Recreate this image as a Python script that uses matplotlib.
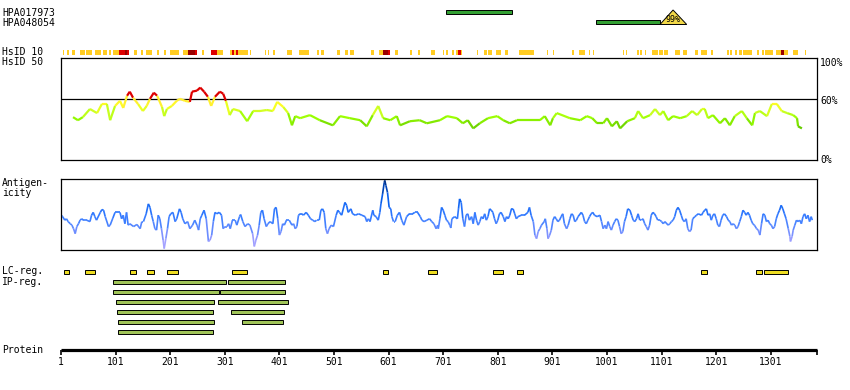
import numpy as np
import matplotlib
matplotlib.use('Agg')
import matplotlib.pyplot as plt
from matplotlib.collections import LineCollection
from matplotlib.colors import LinearSegmentedColormap, Normalize
from matplotlib.patches import Polygon

plt.rcParams['font.family'] = 'DejaVu Sans Mono'
plt.rcParams['font.size'] = 7

# ---- data (residue positions) ----
protein_len = 1385
tick_res = [1, 101, 201, 301, 401, 501, 601, 701, 801, 901, 1001, 1101, 1201, 1301]

ab_names = ['HPA017973', 'HPA048054']
ab_start = [706, 981]
ab_end = [827, 1098]
ab_score = [None, '99%']

hs10_start = [4, 12, 22, 36, 47, 63, 78, 89, 96, 107, 119, 122, 135, 148, 157, 176, 190, 201, 224, 234, 246,
              260, 276, 286, 310, 314, 317, 321, 325, 347, 375, 380, 389, 415, 437, 469, 478, 507, 521, 530,
              569, 584, 590, 600, 613, 640, 654, 679, 701, 707, 717, 725, 729, 733, 763, 775, 783, 798, 814,
              840, 891, 902, 937, 950, 968, 975, 1030, 1035, 1056, 1062, 1070, 1083, 1089, 1097, 1105, 1125,
              1140, 1162, 1173, 1191, 1220, 1226, 1236, 1243, 1250, 1275, 1285, 1290, 1310, 1319, 1326, 1341, 1363]
hs10_end = [7, 15, 26, 45, 57, 74, 85, 92, 107, 118, 122, 125, 141, 151, 167, 180, 193, 218, 234, 246, 250,
            262, 286, 297, 314, 317, 321, 325, 343, 349, 377, 382, 393, 424, 455, 473, 483, 512, 527, 538,
            574, 590, 600, 603, 618, 643, 658, 686, 703, 709, 720, 729, 733, 735, 765, 781, 790, 807, 820,
            867, 893, 904, 940, 961, 970, 978, 1033, 1038, 1060, 1065, 1073, 1088, 1094, 1103, 1113, 1134,
            1147, 1167, 1185, 1195, 1224, 1230, 1240, 1248, 1266, 1279, 1288, 1305, 1319, 1326, 1332, 1350, 1365]
hs10_level = ['y', 'y', 'y', 'y', 'y', 'y', 'y', 'y', 'y', 'r', 'd', 'r', 'y', 'y', 'y', 'y', 'y', 'y', 'y', 'd', 'r',
              'y', 'r', 'y', 'y', 'r', 'y', 'r', 'y', 'y', 'y', 'y', 'y', 'y', 'y', 'y', 'y', 'y', 'y', 'y',
              'y', 'y', 'd', 'r', 'y', 'y', 'y', 'y', 'y', 'y', 'y', 'y', 'r', 'y', 'y', 'y', 'y', 'y', 'y',
              'y', 'y', 'y', 'y', 'y', 'y', 'y', 'y', 'y', 'y', 'y', 'y', 'y', 'y', 'y', 'y', 'y',
              'y', 'y', 'y', 'y', 'y', 'y', 'y', 'y', 'y', 'y', 'y', 'y', 'y', 'd', 'y', 'y', 'y']

hs50_pos = [23, 32, 41, 54, 67, 76, 85, 91, 100, 109, 115, 122, 127, 133, 142, 151, 158, 164, 171, 177, 186, 190,
            195, 204, 213, 219, 228, 237, 241, 250, 256, 263, 270, 276, 283, 292, 298, 303, 310, 316, 329, 342,
            353, 365, 378, 389, 397, 408, 417, 424, 430, 439, 457, 475, 499, 512, 530, 549, 561, 572, 582, 591,
            604, 616, 622, 640, 658, 671, 695, 708, 726, 737, 746, 756, 768, 783, 800, 811, 823, 836, 865, 878,
            887, 897, 902, 909, 933, 952, 964, 974, 983, 994, 1001, 1010, 1019, 1025, 1038, 1052, 1058, 1067,
            1080, 1089, 1098, 1104, 1113, 1122, 1135, 1147, 1157, 1166, 1175, 1180, 1186, 1195, 1208, 1217, 1226,
            1235, 1248, 1257, 1267, 1272, 1281, 1294, 1303, 1312, 1321, 1331, 1342, 1349, 1351, 1358]
hs50_val = [42, 39, 42, 50, 46, 55, 55, 39, 53, 58, 51, 63, 67, 61, 55, 48, 53, 60, 66, 63, 52, 43,
            50, 53, 58, 60, 58, 57, 67, 68, 71, 67, 62, 53, 62, 67, 65, 58, 44, 50, 48, 38,
            48, 48, 49, 48, 57, 52, 46, 34, 43, 41, 44, 39, 34, 43, 41, 39, 33, 44, 53, 41,
            39, 43, 34, 38, 39, 36, 39, 43, 41, 36, 39, 31, 36, 41, 43, 39, 36, 39, 39, 39,
            43, 34, 41, 46, 41, 39, 43, 41, 36, 36, 41, 33, 38, 31, 38, 41, 48, 41,
            44, 50, 44, 48, 39, 43, 41, 43, 48, 44, 50, 50, 41, 44, 36, 41, 34,
            43, 48, 41, 34, 46, 48, 43, 55, 55, 48, 46, 44, 41, 33, 31]

ag_pos = [1, 4, 8, 11, 14, 18, 21, 24, 27, 30, 33, 36, 39, 42, 48, 54, 57, 60, 63, 66, 73, 76, 79, 82, 88, 91, 96,
          100, 103, 109, 112, 115, 118, 121, 124, 127, 134, 140, 146, 149, 152, 157, 161, 164, 167, 170, 173, 176,
          179, 182, 185, 188, 190, 193, 196, 199, 202, 206, 210, 213, 218, 221, 224, 228, 233, 237, 242, 246, 250,
          253, 256, 259, 263, 267, 271, 274, 277, 280, 283, 286, 291, 295, 298, 301, 305, 308, 311, 315, 320, 323,
          328, 330, 334, 338, 343, 347, 352, 355, 358, 361, 364, 367, 370, 373, 377, 380, 384, 389, 392, 395, 398,
          401, 404, 407, 410, 414, 419, 424, 427, 430, 433, 436, 439, 442, 445, 450, 454, 458, 462, 466, 469, 474,
          477, 480, 483, 486, 489, 492, 496, 500, 505, 508, 511, 515, 521, 524, 527, 532, 535, 540, 546, 552, 558,
          561, 564, 567, 572, 574, 578, 582, 585, 587, 590, 593, 594, 596, 599, 602, 605, 607, 610, 613, 617, 621,
          625, 629, 634, 639, 645, 649, 654, 659, 662, 666, 671, 676, 680, 684, 688, 691,
          692, 695, 698, 701, 704, 707, 710, 713, 715, 717, 722, 727, 729, 731, 734, 737, 740, 743, 746, 749, 753,
          756, 759, 762, 765, 768, 771, 774, 777, 780, 783, 786, 789, 792, 795, 798, 801, 804, 807, 811, 814, 817,
          820, 823, 826, 829, 832, 835, 838, 844, 850, 856, 859, 862, 866, 869, 872, 875, 878, 881, 886, 888, 891,
          893, 896, 899, 902, 905, 908, 911, 914, 917, 920, 923, 927, 930, 933, 936, 939, 942, 945, 948, 954, 957,
          960, 963, 966, 969, 972, 975, 978, 983, 988, 991, 994, 997, 1000, 1003, 1006, 1009, 1012, 1015, 1018,
          1021, 1024, 1027, 1030, 1033, 1036, 1039, 1043, 1046, 1049, 1052, 1055, 1058, 1061, 1064, 1067, 1070,
          1073, 1076, 1079, 1082, 1085, 1088, 1091, 1094, 1098, 1101, 1104, 1107, 1113, 1116, 1119, 1122, 1125,
          1128, 1131, 1134, 1137, 1140, 1143, 1146, 1149, 1152, 1155, 1158, 1162, 1165, 1168, 1174, 1177, 1180,
          1183, 1186, 1189, 1192, 1195, 1198, 1201, 1204, 1207, 1210, 1213, 1216, 1220, 1223, 1226, 1229, 1232,
          1235, 1238, 1241, 1244, 1247, 1250, 1253, 1256, 1259, 1262, 1265, 1268, 1271, 1275, 1278, 1281, 1284,
          1287, 1290, 1293, 1296, 1299, 1302, 1305, 1308, 1311, 1314, 1317, 1320, 1323, 1326, 1329, 1333, 1336,
          1337, 1340, 1342, 1345, 1348, 1351, 1354, 1357, 1360, 1363, 1366, 1369, 1372, 1375, 1377]
ag_val = [49, 47, 42, 44, 40, 37, 35, 30, 23, 33, 37, 42, 44, 42, 42, 40, 49, 53, 47, 42, 53, 57, 56, 47, 33, 35, 45,
          53, 53, 53, 44, 49, 37, 53, 35, 37, 33, 36, 30, 40, 40, 51, 65, 60, 49, 40, 30, 28,
          49, 44, 30, 14, 2, 16, 30, 47, 51, 53, 40, 44, 58, 53, 44, 37, 40, 30, 35, 42, 35,
          28, 44, 49, 56, 44, 12, 14, 21, 40, 53, 51, 53, 49, 30, 33, 33, 37, 30, 42, 42, 35,
          47, 50, 40, 33, 37, 35, 23, 5, 14, 21, 35, 53, 56, 44, 33, 37, 40, 37, 58, 60, 44,
          21, 26, 37, 35, 42, 42, 35, 37, 30, 33, 49, 51, 51, 49, 53, 49, 44, 42, 40, 42, 42,
          56, 58, 53, 30, 23, 30, 35, 33, 49, 56, 53, 49, 67, 63, 53, 58, 51, 49, 51, 49, 47,
          40, 44, 40, 56, 49, 47, 42, 53, 65, 79, 95, 98, 91, 81, 60, 58, 47, 40, 40, 49, 53,
          42, 35, 47, 51, 51, 53, 53, 47, 42, 40, 42, 44, 40, 37, 30, 35,
          30, 44, 60, 56, 49, 42, 40, 35, 31, 44, 47, 44, 58, 72, 67, 44, 33, 49, 51, 42, 47,
          37, 53, 42, 35, 40, 47, 44, 51, 42, 47, 58, 56, 53, 44, 37, 42, 51, 53, 47, 40, 47,
          44, 49, 58, 58, 51, 44, 47, 49, 49, 53, 60, 49, 40, 21, 16, 26, 30, 35, 40, 44, 30,
          16, 21, 28, 42, 47, 44, 40, 42, 47, 51, 37, 30, 35, 44, 51, 49, 40, 42, 47, 53, 49,
          40, 37, 42, 47, 51, 53, 49, 47, 49, 40, 30, 35, 30, 40, 33, 28, 35, 40, 44,
          42, 33, 23, 26, 40, 47, 58, 56, 49, 42, 40, 44, 51, 42, 42, 44, 37,
          33, 28, 35, 49, 53, 51, 47, 42, 42, 40, 37, 40, 35, 37, 40, 42,
          47, 56, 60, 56, 49, 42, 40, 44, 30, 26, 28, 44, 47, 49, 51, 49, 53,
          56, 58, 49, 51, 42, 49, 51, 44, 35, 33, 42, 49, 51, 47, 42, 40, 35, 37,
          35, 30, 33, 40, 47, 56, 53, 49, 53, 49, 42, 37, 35, 30, 28, 21, 37,
          51, 49, 40, 42, 37, 35, 30, 33, 44, 51, 56, 63, 58, 51, 44, 30, 19,
          12, 19, 28, 35, 42, 40, 42, 37, 47, 51, 44, 49, 40, 47, 42]

lc_start = [7, 45, 128, 159, 196, 315, 591, 674, 793, 837, 1174, 1273, 1289]
lc_end = [16, 63, 139, 171, 215, 342, 600, 689, 810, 848, 1184, 1284, 1332]

ip_row = [0, 0, 1, 1, 2, 2, 3, 3, 4, 4, 5]
ip_start = [97, 307, 97, 292, 102, 289, 104, 312, 106, 333, 106]
ip_end = [304, 412, 291, 412, 282, 416, 280, 410, 282, 408, 280]

# ---- layout (pixels) ----
W, H = 850, 390
PX0 = 61          # pixel of residue 1
PPR = 0.546       # pixels per residue


def res_at(px):
    return 1 + (px - PX0) / PPR


def add_px_axes(left, top, width, height):
    return fig.add_axes([left / W, 1 - (top + height) / H, width / W, height / H])


fig = plt.figure(figsize=(8.5, 3.9), dpi=100)

lab = fig.add_axes([0, 0, 1, 1])
lab.set_xlim(0, W)
lab.set_ylim(H, 0)
lab.axis('off')

tr = fig.add_axes([0, 0, 1, 1])
tr.set_xlim(res_at(0), res_at(W))
tr.set_ylim(H, 0)
tr.axis('off')
tr.patch.set_alpha(0)

# left labels
for txt, y in [('HPA017973', 12.5), ('HPA048054', 22.5), ('HsID 10', 52), ('HsID 50', 62),
               ('Antigen-', 183), ('icity', 193), ('LC-reg.', 271.5), ('IP-reg.', 282), ('Protein', 350)]:
    lab.text(2, y, txt, va='center', ha='left', color='black')
for txt, y in [('100%', 63), ('60%', 100.5), ('0%', 160)]:
    lab.text(820, y, txt, va='center', ha='left', color='black')

# antibodies
for i in range(len(ab_names)):
    tr.barh(12 + 10 * i, ab_end[i] - ab_start[i], left=ab_start[i], height=4,
            color='#33a033', edgecolor='black', linewidth=0.7)
    if ab_score[i]:
        x0 = ab_end[i]
        tri = Polygon([(x0, 24.5), (x0 + 24, 10), (x0 + 49, 24.5)], closed=True,
                      facecolor='#f2d848', edgecolor='black', linewidth=0.7, zorder=3)
        tr.add_patch(tri)
        tr.text(x0 + 24.5, 19.5, ab_score[i], ha='center', va='center', fontsize=6, zorder=4)

# HsID 10 strip
hs10_colors = {'y': '#ffcc22', 'r': '#dd0000', 'd': '#990000'}
for s, e, lv in zip(hs10_start, hs10_end, hs10_level):
    tr.barh(52.5, e - s, left=s, height=5, color=hs10_colors[lv], linewidth=0)

# HsID 50 panel
ax_hs = add_px_axes(61, 58, 756, 102)
ax_hs.set_xlim(1, res_at(817))
ax_hs.set_ylim(0, 100)
ax_hs.set_xticks([])
ax_hs.set_yticks([])
for sp in ax_hs.spines.values():
    sp.set_linewidth(0.9)
ax_hs.axhline(60, color='black', linewidth=0.9, zorder=1)
hs_cmap = LinearSegmentedColormap.from_list('hs', [(0.0, '#55bb00'), (0.25, '#77dd00'), (0.45, '#99ff00'),
                                                   (0.65, '#ccff22'), (0.85, '#ffff22'), (1.0, '#ffee33')])
hs_norm = Normalize(28, 58)
hx = np.array(hs50_pos, dtype=float)
hy = np.array(hs50_val, dtype=float)
segs = np.stack([np.column_stack([hx[:-1], hy[:-1]]), np.column_stack([hx[1:], hy[1:]])], axis=1)
mid = (hy[:-1] + hy[1:]) / 2
cols = [('#dd0000' if m >= 60.5 else hs_cmap(hs_norm(m))) for m in mid]
ax_hs.add_collection(LineCollection(segs, colors=cols, linewidths=1.6, zorder=2, capstyle='butt'))

# Antigenicity panel
ax_ag = add_px_axes(61, 179, 756, 71)
ax_ag.set_xlim(1, res_at(817))
ax_ag.set_ylim(0, 100)
ax_ag.set_xticks([])
ax_ag.set_yticks([])
for sp in ax_ag.spines.values():
    sp.set_linewidth(0.9)
ag_cmap = LinearSegmentedColormap.from_list('ag', [(0.0, '#b4aaff'), (0.15, '#9a9cff'), (0.28, '#6a8cff'),
                                                   (0.38, '#4a84ff'), (0.5, '#2f78ff'), (0.7, '#0a62f0'),
                                                   (0.85, '#0048c0'), (1.0, '#002a78')])
ax = np.array(ag_pos, dtype=float)
ay = np.array(ag_val, dtype=float)
segs = np.stack([np.column_stack([ax[:-1], ay[:-1]]), np.column_stack([ax[1:], ay[1:]])], axis=1)
mid = (ay[:-1] + ay[1:]) / 2
ax_ag.add_collection(LineCollection(segs, colors=[ag_cmap(m / 100) for m in mid], linewidths=1.2, zorder=2))

# LC regions
tr.barh(272.3, np.array(lc_end) - np.array(lc_start), left=lc_start, height=4,
        color='#eedd22', edgecolor='black', linewidth=0.7)

# IP regions
tr.barh(282.3 + 10 * np.array(ip_row), np.array(ip_end) - np.array(ip_start), left=ip_start, height=4,
        color='#a0c458', edgecolor='black', linewidth=0.7)

# protein axis
tr.plot([1, protein_len], [349.7, 349.7], color='black', linewidth=2.3, solid_capstyle='butt')
tr.vlines(tick_res + [protein_len], 349.7, 355, color='black', linewidth=1.2)
for t in tick_res:
    tr.text(t, 362, str(t), ha='center', va='center', color='black')

fig.savefig('out.png', dpi=100)
